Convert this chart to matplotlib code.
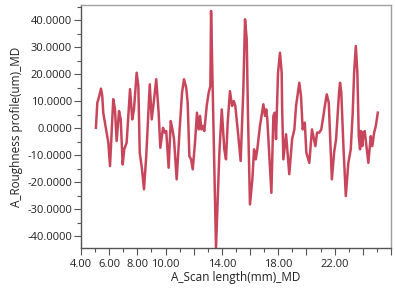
"""
Roughness profile along scan length (MD)
"""

import matplotlib
matplotlib.use('Agg')
import matplotlib.pyplot as plt
from matplotlib.ticker import MultipleLocator, FixedLocator, FixedFormatter, FormatStrFormatter


#---------------------------------------------------------------------------------------------------
# Data
#---------------------------------------------------------------------------------------------------

scan_mm = [5.06, 5.16, 5.30, 5.42, 5.51, 5.58, 5.77, 5.94, 6.06, 6.29, 6.41, 6.53, 6.70, 6.82,
           6.96, 7.07, 7.24, 7.48, 7.64, 7.76, 7.95, 8.07, 8.17, 8.33, 8.47, 8.63, 8.88, 9.02,
           9.16, 9.34, 9.51, 9.63, 9.82, 9.94, 10.05, 10.22, 10.37, 10.51, 10.60, 10.79, 11.00,
           11.17, 11.31, 11.47, 11.57, 11.69, 11.81, 11.93, 12.09, 12.23, 12.35, 12.45, 12.54,
           12.64, 12.75, 12.92, 13.06, 13.18, 13.23, 13.58, 13.82, 13.99, 14.17, 14.29, 14.41,
           14.57, 14.72, 14.84, 14.95, 15.14, 15.33, 15.52, 15.64, 15.76, 15.85, 15.99, 16.16,
           16.28, 16.40, 16.51, 16.70, 16.94, 17.06, 17.15, 17.22, 17.51, 17.65, 17.75, 17.84,
           17.98, 18.12, 18.24, 18.27, 18.36, 18.55, 18.78, 18.98, 19.14, 19.26, 19.49, 19.61,
           19.73, 19.88, 19.99, 20.20, 20.39, 20.63, 20.75, 20.91, 21.05, 21.20, 21.32, 21.44,
           21.58, 21.80, 21.96, 22.10, 22.31, 22.38, 22.47, 22.62, 22.79, 22.97, 23.14, 23.28,
           23.38, 23.50, 23.61, 23.71, 23.80, 23.87, 23.96, 24.04, 24.13, 24.39, 24.56, 24.67,
           24.80, 24.92, 25.06]

rough_um = [0.2, 9.5, 12.0, 14.7, 12.0, 5.8, 0.0, -5.3, -14.0, 10.8, 7.2, -4.7, 6.4, 3.3,
            -13.4, -7.8, -5.3, 14.5, 3.3, 7.0, 20.6, 15.7, -9.0, -15.2, -22.6, -10.3, 16.3, 3.3,
            9.5, 18.2, 5.8, -7.2, 0.2, -1.6, -1.0, -14.6, 2.7, -1.0, -4.0, -18.9, -0.4,
            13.2, 18.2, 15.0, 9.5, -10.3, -11.5, -15.2, -5.3, 5.8, -0.4, 4.6, -0.4,
            0.9, -1.0, 8.3, 13.2, 15.7, 43.5, -44.3, -9.0, 7.0, -7.8, -11.5, 2.1,
            13.8, 8.3, 10.1, 8.3, -1.6, -12.1, 14.5, 40.4, 33.0, 4.6, -28.2, -18.9,
            -7.8, -11.5, -7.8, 0.9, 8.9, 4.6, 7.0, 3.3, -23.9, 4.6, 5.8, -4.0,
            20.6, 28.0, 20.6, 8.3, -11.5, -2.2, -17.0, -4.0, -0.4, 8.3, 16.9, 12.0,
            -0.4, 2.1, -9.0, -12.8, -0.4, -6.6, -1.6, -1.6, -0.4, 4.6, 8.9, 12.6,
            9.5, -18.9, -9.0, -4.0, 13.2, 16.9, 13.2, -6.6, -25.1, -12.8, -7.8, 5.8,
            20.6, 30.5, 20.6, -2.9, -7.8, -1.0, -6.6, -1.6, -1.0, -12.8, -2.9, -6.6,
            -1.6, 0.9, 5.8]

x_major = [4, 6, 8, 10, 12, 14, 16, 18, 20, 22, 24, 26]
x_labels = ['4.00', '6.00', '8.00', '10.00', '', '14.00', '', '18.00', '', '22.00', '', '']


#---------------------------------------------------------------------------------------------------
# Plot
#---------------------------------------------------------------------------------------------------

plt.rcParams['font.family'] = ['Open Sans', 'DejaVu Sans']

fig = plt.figure(figsize=(3.95, 2.94), dpi=100)
ax = fig.add_axes([0.205, 0.156, 0.785, 0.827])

ax.plot(scan_mm, rough_um, color='#c8465c', lw=1.8, solid_joinstyle='round')

ax.set_xlim(4, 26)
ax.set_ylim(-44.4, 45.7)

ax.xaxis.set_major_locator(FixedLocator(x_major))
ax.xaxis.set_major_formatter(FixedFormatter(x_labels))
ax.xaxis.set_minor_locator(MultipleLocator(1))
ax.yaxis.set_major_locator(MultipleLocator(10))
ax.yaxis.set_major_formatter(FormatStrFormatter('%.4f'))
ax.yaxis.set_minor_locator(MultipleLocator(5))

ax.tick_params(axis='y', which='major', length=5, width=0.8, color='#555555', labelsize=8,
               labelcolor='#222222', pad=1.5)
ax.tick_params(axis='x', which='major', length=5, width=0.8, color='#555555', labelsize=8,
               labelcolor='#222222', pad=2.5)
ax.tick_params(which='minor', length=3, width=0.8, color='#555555')

for side in ['left', 'bottom']:
    ax.spines[side].set_color('#555555')
for side in ['top', 'right']:
    ax.spines[side].set_color('#a0a0a0')
for sp in ax.spines.values():
    sp.set_linewidth(1.0)

ax.set_xlabel('A_Scan length(mm)_MD', fontsize=8.5, color='#222222', labelpad=1)
ax.set_ylabel('A_Roughness profile(um)_MD', fontsize=8.5, color='#222222', labelpad=3)

plt.savefig('out.png', dpi=100)
plt.close()
